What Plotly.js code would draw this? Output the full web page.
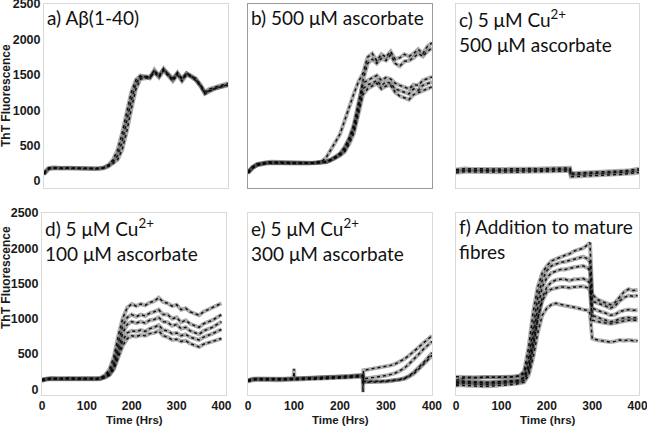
<!DOCTYPE html>
<html>
<head>
<meta charset="utf-8">
<script src="https://cdn.plot.ly/plotly-3.0.1.min.js"></script>
<style>html,body{margin:0;padding:0;background:#fff;}#chart{width:647px;height:427px;}</style>
</head>
<body>
<div id="chart"></div>
<script>
// ---------- DATA ----------
var T = [0,10,20,30,40,50,60,70,80,90,100,110,120,130,140,150,160,170,180,190,200,210,220,230,240,250,260,270,280,290,300,310,320,330,340,350,360,370,380,390,400];

// a) Abeta(1-40)
var A1 = [100,175,185,185,180,182,180,178,176,180,175,172,176,188,225,300,440,680,980,1260,1430,1490,1470,1450,1570,1480,1590,1500,1430,1530,1430,1520,1480,1430,1350,1240,1280,1300,1330,1340,1360];
var A2 = [120,185,190,180,178,185,182,180,175,178,180,175,180,190,215,270,360,560,850,1150,1380,1470,1480,1470,1550,1490,1570,1510,1450,1520,1450,1520,1490,1450,1360,1260,1300,1320,1350,1360,1380];
var A3 = [90,165,175,180,175,178,176,172,170,174,170,168,172,180,205,245,300,440,700,1020,1300,1440,1450,1460,1530,1460,1560,1480,1410,1500,1410,1500,1470,1420,1340,1230,1270,1300,1320,1330,1350];

// b) 500 uM ascorbate
var B1 = [120,200,240,255,265,270,268,262,258,256,255,252,255,255,258,262,275,330,440,560,660,850,1050,1230,1400,1520,1750,1800,1700,1790,1750,1830,1720,1740,1790,1760,1800,1860,1800,1900,1950];
var B2 = [110,185,225,240,250,255,258,255,250,248,246,245,248,250,252,255,258,270,300,340,390,480,600,750,1050,1420,1660,1720,1660,1730,1700,1780,1660,1620,1690,1700,1740,1800,1760,1830,1880];
var B3 = [130,195,235,250,258,262,260,256,252,250,248,248,250,252,255,258,262,272,300,330,370,430,560,720,1000,1300,1360,1380,1420,1350,1400,1380,1300,1280,1250,1230,1300,1280,1350,1380,1400];
var B4 = [115,180,220,238,248,252,250,248,246,244,242,242,245,248,250,252,256,265,290,320,360,410,520,670,950,1220,1300,1340,1380,1300,1340,1350,1250,1200,1180,1150,1220,1250,1280,1300,1330];
var B5 = [125,190,230,245,255,258,256,252,250,248,246,246,248,250,252,255,260,270,295,325,380,450,600,800,1100,1380,1420,1460,1490,1420,1460,1440,1380,1350,1320,1300,1360,1350,1420,1450,1470];

// c) 5 uM Cu2+, 500 uM ascorbate
var TC = [0,10,20,30,40,50,60,70,80,90,100,110,120,130,140,150,160,170,180,190,200,210,220,230,240,249,251,260,270,280,290,300,310,320,330,340,350,360,370,380,390,400];
var C1 = [140,150,155,150,152,155,150,148,152,150,148,150,152,150,148,150,152,155,150,152,155,158,160,162,165,165,90,92,95,95,98,100,102,105,108,110,115,120,125,130,138,150];
var C2 = [115,125,130,128,126,130,128,125,128,126,124,126,128,126,124,126,128,130,128,130,132,135,136,138,140,140,60,62,65,66,70,72,75,78,80,84,88,92,98,104,110,120];
var C3 = [160,170,175,172,170,175,172,170,172,170,168,170,172,170,168,170,172,175,172,174,176,178,180,182,184,184,110,112,115,116,118,120,122,125,128,132,136,140,146,152,160,172];

// d) 5 uM Cu2+, 100 uM ascorbate
var D1 = [130,150,155,152,150,155,158,155,150,152,155,150,152,158,200,280,460,760,1010,1160,1210,1180,1210,1190,1230,1250,1300,1240,1220,1180,1200,1130,1150,1100,1080,1050,1100,1130,1150,1180,1220];
var D2 = [140,155,158,155,152,158,160,156,152,155,157,153,155,160,190,240,380,650,900,1020,1060,1030,1060,1040,1080,1100,1130,1060,1060,1000,1020,950,980,930,900,880,930,950,980,1020,1060];
var D3 = [125,145,150,148,146,150,152,150,148,150,150,148,150,152,175,220,330,560,800,920,960,940,960,940,980,990,1020,960,950,900,920,860,880,830,800,780,830,850,880,920,960];
var D4 = [120,140,145,142,140,145,148,145,142,145,146,142,145,148,168,205,300,500,700,800,830,820,840,820,860,880,910,840,830,790,800,760,780,740,720,700,740,760,790,820,850];
var D5 = [135,150,152,150,148,152,155,152,150,152,152,150,152,155,170,200,280,440,620,720,760,750,770,760,790,800,830,760,740,700,710,680,690,650,620,600,640,660,690,700,720];

// e) 5 uM Cu2+, 300 uM ascorbate
var TE = [0,10,20,30,40,50,60,70,80,90,99,100,101,110,120,130,140,150,160,170,180,190,200,210,220,230,240,249,250,251,260,270,280,290,300,310,320,330,340,350,360,370,380,390,400];
var E1 = [130,150,155,152,150,152,155,150,152,155,158,290,158,158,160,162,160,165,168,170,172,175,180,185,190,195,200,205,-40,270,280,290,300,310,320,340,360,390,430,480,530,590,650,700,760];
var E2 = [120,140,145,142,140,142,145,140,142,145,148,148,148,148,150,152,150,155,158,160,162,165,170,175,180,185,190,192,192,150,155,165,175,185,195,210,230,260,300,360,420,490,560,620,680];
var E3 = [110,130,135,132,130,132,135,130,132,135,138,138,138,138,140,142,140,145,148,150,152,155,158,162,165,170,175,178,178,110,110,112,115,118,120,125,130,140,160,190,240,300,370,440,520];
var E4 = [125,145,148,145,145,148,150,145,148,150,152,152,152,152,155,156,155,160,162,165,168,170,174,178,182,188,192,196,196,100,100,102,105,108,112,118,125,135,150,180,220,280,340,410,480];

// f) Addition to mature fibres
var TF = [0,10,20,30,40,50,60,70,80,90,100,110,120,130,140,150,160,170,180,190,200,210,220,230,240,250,260,270,280,290,295,300,310,320,330,340,350,360,370,380,390,400];
var F1 = [130,150,160,165,160,165,170,168,165,170,172,170,175,180,190,260,600,1100,1450,1650,1750,1820,1850,1870,1900,1920,1960,1980,2000,2050,2080,1350,1280,1250,1230,1200,1230,1300,1380,1420,1400,1410];
var F2 = [180,175,170,172,168,170,174,172,170,172,175,172,176,180,190,220,450,900,1300,1550,1680,1750,1780,1800,1810,1830,1850,1870,1880,1850,1800,1250,1230,1200,1180,1150,1180,1250,1300,1330,1320,1330];
var F3 = [100,120,115,110,105,100,98,100,104,108,110,112,115,118,130,180,350,750,1150,1450,1580,1650,1680,1700,1700,1720,1730,1740,1750,1720,1680,1150,1120,1100,1080,1050,1060,1100,1120,1130,1120,1120];
var F4 = [70,90,85,80,75,70,68,72,76,80,84,86,90,94,105,130,260,600,1000,1300,1450,1520,1550,1560,1560,1540,1560,1560,1570,1540,1500,1050,1020,1000,980,960,970,1000,1010,1020,1010,1020];
var F5 = [90,110,105,100,96,92,90,94,98,102,106,108,110,114,125,160,300,650,1000,1250,1380,1420,1440,1450,1450,1440,1450,1460,1460,1440,1400,980,960,950,940,930,940,960,970,980,975,980];
var F6 = [50,60,55,50,45,40,40,44,48,52,56,60,64,70,85,100,200,450,800,1050,1150,1200,1220,1200,1190,1180,1160,1150,1130,1120,1080,720,700,690,680,670,680,700,690,700,690,690];

var yTicks = [0,500,1000,1500,2000,2500];
var xTicks = [0,100,200,300,400];
var panelTitles = [
  'a) A\u03b2(1-40)',
  'b) 500 \u03bcM ascorbate',
  'c) 5 \u03bcM Cu<sup>2+</sup><br>500 \u03bcM ascorbate',
  'd) 5 \u03bcM Cu<sup>2+</sup><br>100 \u03bcM ascorbate',
  'e) 5 \u03bcM Cu<sup>2+</sup><br>300 \u03bcM ascorbate',
  'f) Addition to mature<br>fibres'
];
var yTitle = 'ThT Fluorescence';
var xTitles = ['Time (Hrs)', 'Time (Hrs)', 'Time (hrs)'];

// ---------- BUILD ----------
var W = 647, H = 427;
var panels = [
  {x: T,  ys: [A1, A2, A3]},
  {x: T,  ys: [B1, B2, B3, B4, B5]},
  {x: TC, ys: [C1, C2, C3]},
  {x: T,  ys: [D1, D2, D3, D4, D5]},
  {x: TE, ys: [E1, E2, E3, E4]},
  {x: TF, ys: [F1, F2, F3, F4, F5, F6]}
];
// pixel boxes [left, right, top, bottom]
var boxes = [
  [44, 228, 4, 188], [248, 432, 4, 188], [456, 639, 4, 188],
  [42, 226, 213, 395], [248, 432, 213, 395], [456, 639, 213, 395]
];
var yRanges = [[-100, 2500], [-100, 2500], [-100, 2500], [-80, 2500], [-80, 2500], [-80, 2500]];
var xRanges = [[0, 400], [0, 400], [0, 400], [0, 410], [0, 400], [0, 403]];

var traces = [];
var layout = {
  width: W, height: H,
  margin: {l: 0, r: 0, t: 0, b: 0},
  paper_bgcolor: '#fff', plot_bgcolor: '#fff',
  showlegend: false,
  annotations: []
};
var tickFont = {family: 'Liberation Sans, Arial, sans-serif', size: 12, color: '#1a1a1a', weight: 'bold'};

panels.forEach(function(p, i) {
  var n = i + 1;
  var xa = 'x' + (n === 1 ? '' : n), ya = 'y' + (n === 1 ? '' : n);
  // soft grey band under every replicate
  p.ys.forEach(function(y) {
    traces.push({
      type: 'scatter', mode: 'lines', x: p.x, y: y, xaxis: xa, yaxis: ya,
      line: {color: 'rgba(70,70,70,0.45)', width: 4},
      hoverinfo: 'skip'
    });
  });
  // dotted dark replicate traces on top
  p.ys.forEach(function(y) {
    traces.push({
      type: 'scatter', mode: 'lines', x: p.x, y: y, xaxis: xa, yaxis: ya,
      line: {color: 'rgba(10,10,10,0.95)', width: 1.5, dash: 'dot'},
      hoverinfo: 'skip'
    });
  });
  var b = boxes[i];
  var bottomRow = i >= 3, leftCol = (i % 3 === 0);
  layout['xaxis' + (n === 1 ? '' : n)] = {
    domain: [b[0] / W, b[1] / W], range: xRanges[i], anchor: ya,
    showgrid: false, zeroline: false, showline: true, mirror: true,
    linecolor: i === 1 ? '#9a9a9a' : '#d9d9d9', linewidth: 1,
    ticks: '', tickvals: xTicks, showticklabels: bottomRow, tickfont: tickFont,
    ticklabeloverflow: 'allow'
  };
  layout['yaxis' + (n === 1 ? '' : n)] = {
    domain: [1 - b[3] / H, 1 - b[2] / H], range: yRanges[i], anchor: xa,
    showgrid: false, zeroline: false, showline: true, mirror: true,
    linecolor: i === 1 ? '#9a9a9a' : '#d9d9d9', linewidth: 1,
    ticks: '', tickvals: yTicks, showticklabels: leftCol,
    tickfont: {family: tickFont.family, size: 12.5, color: tickFont.color, weight: 'bold'},
    ticklabeloverflow: 'allow'
  };
  // panel title
  layout.annotations.push({
    xref: 'paper', yref: 'paper', x: (b[0] + 1) / W, y: 1 - (b[2]) / H,
    xanchor: 'left', yanchor: 'top', align: 'left', showarrow: false,
    text: panelTitles[i],
    font: {family: 'Lato, Carlito, Calibri, sans-serif', size: 19, color: '#111'}
  });
  if (bottomRow) {
    layout.annotations.push({
      xref: 'paper', yref: 'paper', x: ((b[0] + b[1]) / 2) / W, y: 0,
      xanchor: 'center', yanchor: 'bottom', borderpad: 0, showarrow: false,
      text: xTitles[i - 3],
      font: {family: 'Liberation Sans, Arial, sans-serif', size: 11.5, color: '#1a1a1a', weight: 'bold'}
    });
  }
});
// y axis titles
[[96], [278]].forEach(function(c) {
  layout.annotations.push({
    xref: 'paper', yref: 'paper', x: 6 / W, y: 1 - c[0] / H,
    xanchor: 'center', yanchor: 'middle', showarrow: false, textangle: -90,
    text: yTitle,
    font: {family: 'Liberation Sans, Arial, sans-serif', size: 12, color: '#1a1a1a', weight: 'bold'}
  });
});

Plotly.newPlot('chart', traces, layout, {staticPlot: true});
</script>
</body>
</html>
